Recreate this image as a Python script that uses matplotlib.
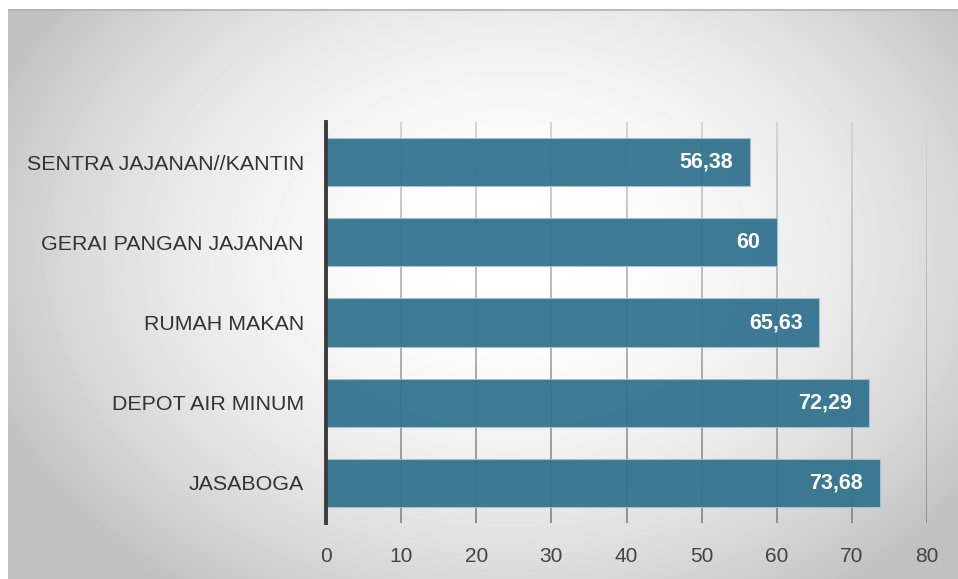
import numpy as np
import matplotlib.pyplot as plt
from matplotlib.collections import LineCollection

# data (bottom to top as drawn)
categories = ["JASABOGA", "DEPOT AIR MINUM", "RUMAH MAKAN",
              "GERAI PANGAN JAJANAN", "SENTRA JAJANAN//KANTIN"]
values = [73.68, 72.29, 65.63, 60, 56.38]
value_labels = ["73,68", "72,29", "65,63", "60", "56,38"]
x_ticks = [0, 10, 20, 30, 40, 50, 60, 70, 80]

W, H = 958, 579
plt.rcParams['font.family'] = ['Liberation Sans', 'DejaVu Sans']

fig = plt.figure(figsize=(W / 100, H / 100), dpi=100)
fig.patch.set_facecolor('white')

# panel with radial grey-to-white background
px0, py0 = 8, 9
bg = fig.add_axes([px0 / W, 0, (W - px0) / W, (H - py0) / H])
xx, yy = np.meshgrid(np.arange(px0, W), np.arange(py0, H))
r = np.sqrt(((xx - 510) / 560.0) ** 2 + ((yy - 250) / 420.0) ** 2)
shade = 255 - 62 * np.clip(r, 0, 1) ** 2
bg.imshow(shade, cmap='gray', vmin=0, vmax=255, aspect='auto',
          extent=[px0, W, H, py0], interpolation='bilinear')
bg.plot([px0, W], [py0 + 0.5, py0 + 0.5], color='#b4b4b4', lw=1.2)
bg.set_xlim(px0, W)
bg.set_ylim(H, py0)
bg.axis('off')

# plotting area
left, right, top, bottom = 326, 927, 122, 523
ax = fig.add_axes([left / W, 1 - bottom / H, (right - left) / W, (bottom - top) / H])
ax.patch.set_alpha(0)

y = np.arange(len(categories))
ax.set_xlim(0, 80)
ax.set_ylim(-0.5, len(categories) - 0.5)

# vertical gridlines, lighter toward the top
segs, cols = [], []
ys = np.linspace(-0.5, len(categories) - 0.5, 60)
for xv in x_ticks[1:]:
    for i in range(len(ys) - 1):
        segs.append([(xv, ys[i]), (xv, ys[i + 1])])
        t = (ys[i] + 0.5) / len(categories)
        g = 0.54 + 0.29 * t
        cols.append((g, g, g))
ax.add_collection(LineCollection(segs, colors=cols, linewidths=1.3, zorder=1))

ax.barh(y, values, height=0.6, color='#33738f', alpha=0.95,
        edgecolor='#a6c2d0', linewidth=0.8, zorder=2)

for yi, v, lab in zip(y, values, value_labels):
    ax.annotate(lab, xy=(v, yi), xytext=(-12, 0), textcoords='offset points',
                ha='right', va='center', color='white', fontsize=15.5,
                fontweight='bold', zorder=3)

ax.set_yticks(y)
ax.set_yticklabels(categories, fontsize=15.4, color='#333333')
ax.set_xticks(x_ticks)
ax.set_xticklabels([str(t) for t in x_ticks], fontsize=15, color='#444444')
ax.tick_params(axis='y', length=0, pad=16)
ax.tick_params(axis='x', length=0, pad=17)

for s in ['top', 'right', 'bottom']:
    ax.spines[s].set_visible(False)
ax.spines['left'].set_color('#3c3c3c')
ax.spines['left'].set_linewidth(2.8)
ax.spines['left'].set_zorder(4)

fig.savefig('out.png', dpi=100)
